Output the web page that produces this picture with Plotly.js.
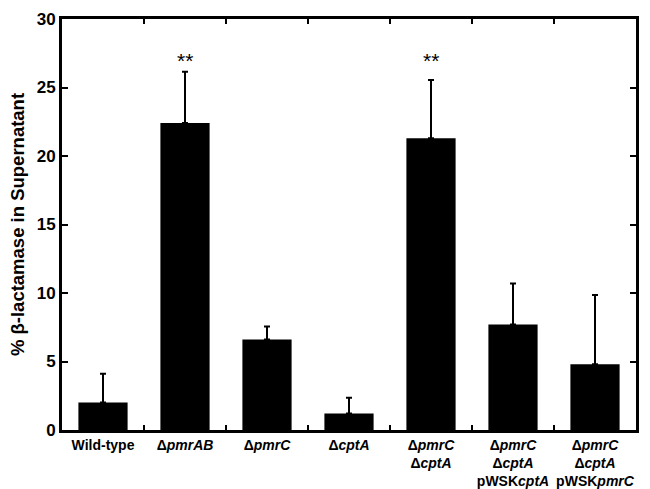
<!DOCTYPE html>
<html>
<head>
<meta charset="utf-8">
<script src="https://cdn.plot.ly/plotly-3.0.1.min.js"></script>
<style>html,body{margin:0;padding:0;background:#fff;}#chart{width:650px;height:489px;}</style>
</head>
<body>
<div id="chart"></div>
<script>
const categories = ["Wild-type", "ΔpmrAB", "ΔpmrC", "ΔcptA", "ΔpmrC ΔcptA", "ΔpmrC ΔcptA pWSKcptA", "ΔpmrC ΔcptA pWSKpmrC"];
const tickLabels = [
  "Wild-type",
  "Δ<i>pmrAB</i>",
  "Δ<i>pmrC</i>",
  "Δ<i>cptA</i>",
  "Δ<i>pmrC</i><br>Δ<i>cptA</i>",
  "Δ<i>pmrC</i><br>Δ<i>cptA</i><br>pWSK<i>cptA</i>",
  "Δ<i>pmrC</i><br>Δ<i>cptA</i><br>pWSK<i>pmrC</i>"
];
const meanValues = [2.0, 22.4, 6.6, 1.2, 21.3, 7.7, 4.8];
const errorValues = [2.1, 3.75, 0.95, 1.15, 4.25, 3.0, 5.05];
const significance = ["", "**", "", "", "**", "", ""];
const starLevel = 27.0;

const font = "Liberation Sans, Arial, Helvetica, sans-serif";

const trace = {
  type: "bar",
  x: categories,
  y: meanValues,
  width: 0.6,
  marker: {color: "#000", line: {width: 0}},
  error_y: {
    type: "data",
    symmetric: false,
    array: errorValues,
    arrayminus: meanValues.map(() => 0),
    color: "#000",
    thickness: 2,
    width: 3
  },
  hoverinfo: "none"
};

const annotations = [];
categories.forEach((c, i) => {
  if (significance[i]) {
    annotations.push({
      x: c, y: starLevel, xref: "x", yref: "y",
      text: significance[i], showarrow: false,
      font: {family: font, size: 21, color: "#000"},
      yanchor: "middle"
    });
  }
});

const layout = {
  width: 650, height: 489,
  margin: {l: 62, r: 14, t: 19, b: 59},
  paper_bgcolor: "#fff", plot_bgcolor: "#fff",
  showlegend: false,
  xaxis: {
    type: "category",
    tickvals: categories,
    ticktext: tickLabels,
    tickangle: 0,
    tickson: "boundaries",
    ticks: "inside", ticklen: 5, tickwidth: 2, tickcolor: "#000",
    showline: true, linewidth: 3, linecolor: "#000", mirror: "ticks",
    showgrid: false, zeroline: false,
    tickfont: {family: font, size: 14, color: "#000", weight: "bold"},
    range: [-0.5, 6.5],
    automargin: false
  },
  yaxis: {
    range: [0, 30], dtick: 5, tick0: 0,
    ticks: "inside", ticklen: 6, tickwidth: 2, tickcolor: "#000",
    showline: true, linewidth: 3, linecolor: "#000", mirror: "ticks",
    showgrid: false, zeroline: false,
    tickfont: {family: font, size: 17, color: "#000", weight: "bold"},
    title: {text: "% β-lactamase in Supernatant", font: {family: font, size: 18.5, color: "#000", weight: "bold"}, standoff: 8},
    automargin: false
  },
  annotations: annotations
};

Plotly.newPlot("chart", [trace], layout, {staticPlot: true, displayModeBar: false});
</script>
</body>
</html>
